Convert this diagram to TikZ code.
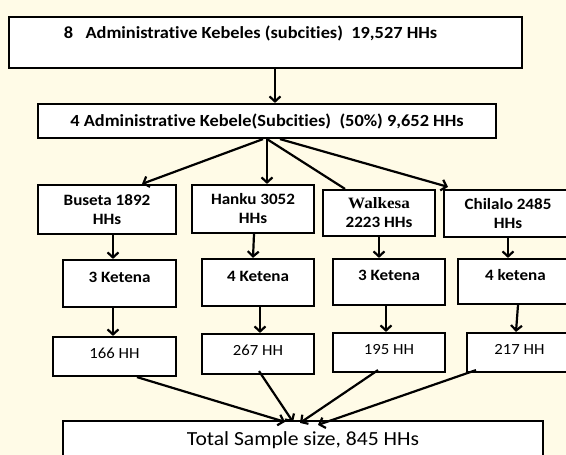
\documentclass[tikz,border=0pt]{standalone}
\usepackage{fontspec}
\setmainfont[FakeStretch=1.08, Ligatures=NoCommon]{Carlito}
\newfontfamily\walkfont[FakeStretch=1.08]{Liberation Serif}
\usetikzlibrary{arrows.meta}
\definecolor{bgcream}{RGB}{255,251,231}

\begin{document}
\begin{tikzpicture}[x=1pt, y=-1pt,
          >={Straight Barb[length=5pt, width=11pt]},
          kbox/.style={draw, line width=2.2pt, fill=white, inner sep=0pt},
          headtext/.style={font=\fontsize{17}{20}\selectfont\bfseries},
          subtext/.style={font=\fontsize{15.8}{19}\selectfont\bfseries},
          hhtext/.style={font=\fontsize{15.5}{19}\selectfont},
          link/.style={line width=2.2pt, ->}]
          \clip (0,0) rectangle (566,455);
          \fill[bgcream] (0,0) rectangle (566,455);

          \node[kbox, headtext, minimum width=513pt, minimum height=51pt, text height=12pt, text depth=21pt]
          (kebele8) at (265.5,42.5) {8\ \ \ Administrative Kebeles (subcities)\ \ 19,527 HHs\hspace*{30pt}};
          \node[kbox, headtext, minimum width=458pt, minimum height=34pt]
          (kebele4) at (267,121) {4 Administrative Kebele(Subcities)\ \ (50\%) 9,652 HHs};

          \node[kbox, subtext, align=center, minimum width=138pt, minimum height=49pt]
          (buseta) at (107,209.5) {Buseta 1892\\HHs};
          \node[kbox, subtext, align=center, minimum width=122pt, minimum height=48pt]
          (hanku) at (253,209) {Hanku 3052\\HHs};
          \node[kbox, subtext, align=center, minimum width=112pt, minimum height=46pt]
          (walkesa) at (379,213) {{\walkfont Walkesa}\\2223 HHs};
          \node[kbox, subtext, align=center, minimum width=128pt, minimum height=47pt]
          (chilalo) at (508,213.5) {Chilalo 2485\\HHs};

          \node[kbox, subtext, minimum width=113pt, minimum height=47pt, text depth=13pt]
          (ketena1) at (119.5,283.5) {3 Ketena};
          \node[kbox, subtext, minimum width=112pt, minimum height=47pt, text depth=13pt]
          (ketena2) at (258,282.5) {4 Ketena};
          \node[kbox, subtext, minimum width=112pt, minimum height=46pt, text depth=13pt]
          (ketena3) at (389,282) {3 Ketena};
          \node[kbox, subtext, minimum width=115pt, minimum height=45pt, text depth=13pt]
          (ketena4) at (515.5,281.5) {4 ketena};

          \node[kbox, hhtext, minimum width=123pt, minimum height=39pt, text depth=7pt]
          (hh1) at (114.5,356.5) {166 HH};
          \node[kbox, hhtext, minimum width=112pt, minimum height=40pt, text depth=7pt]
          (hh2) at (258,354) {267 HH};
          \node[kbox, hhtext, minimum width=112pt, minimum height=39pt, text depth=7pt]
          (hh3) at (389,352.5) {195 HH};
          \node[kbox, hhtext, minimum width=105pt, minimum height=39pt, text depth=7pt]
          (hh4) at (519.5,352.5) {217 HH};

          \node[kbox, font=\fontsize{20}{23}\selectfont, minimum width=480pt, minimum height=38pt]
          (total) at (303,440) {Total Sample size, 845 HHs};

          \draw[link] ([xshift=9.5pt]kebele8.south) -- ([xshift=8pt]kebele4.north);

          \draw[link] ([xshift=-4pt]kebele4.south) -- ([xshift=35pt]buseta.north);
          \draw[link] (kebele4.south) -- ([xshift=14pt]hanku.north);
          \draw[line width=2.2pt] (kebele4.south) -- ([xshift=-34pt]walkesa.north);
          \draw[link] ([xshift=13pt]kebele4.south) -- ([xshift=-60pt, yshift=2pt]chilalo.north);

          \draw[link] ([xshift=6pt]buseta.south) -- ([xshift=-6.5pt]ketena1.north);
          \draw[link] ([xshift=1pt]hanku.south) -- ([xshift=-5pt]ketena2.north);
          \draw[link] (walkesa.south) -- ([xshift=-10pt]ketena3.north);
          \draw[link] (chilalo.south) -- ([xshift=-7.5pt]ketena4.north);

          \draw[link] ([xshift=-6.5pt]ketena1.south) -- ([xshift=-1.5pt]hh1.north);
          \draw[link] ([xshift=2pt]ketena2.south) -- ([xshift=2pt]hh2.north);
          \draw[link] ([xshift=-3pt]ketena3.south) -- ([xshift=-3pt]hh3.north);
          \draw[link] ([xshift=2.5pt]ketena4.south) -- ([xshift=-3.5pt]hh4.north);

          \draw[link] ([xshift=22.5pt]hh1.south) -- ([xshift=-18pt, yshift=-2pt]total.north);
          \draw[link] ([xshift=1pt, yshift=4pt]hh2.south) -- ([xshift=-10pt, yshift=-2pt]total.north);
          \draw[link] ([xshift=-11pt, yshift=3pt]hh3.south) -- ([xshift=-3pt, yshift=-3pt]total.north);
          \draw[link] ([xshift=-43.5pt, yshift=3pt]hh4.south) -- ([xshift=15pt, yshift=-5pt]total.north);
\end{tikzpicture}
\end{document}
